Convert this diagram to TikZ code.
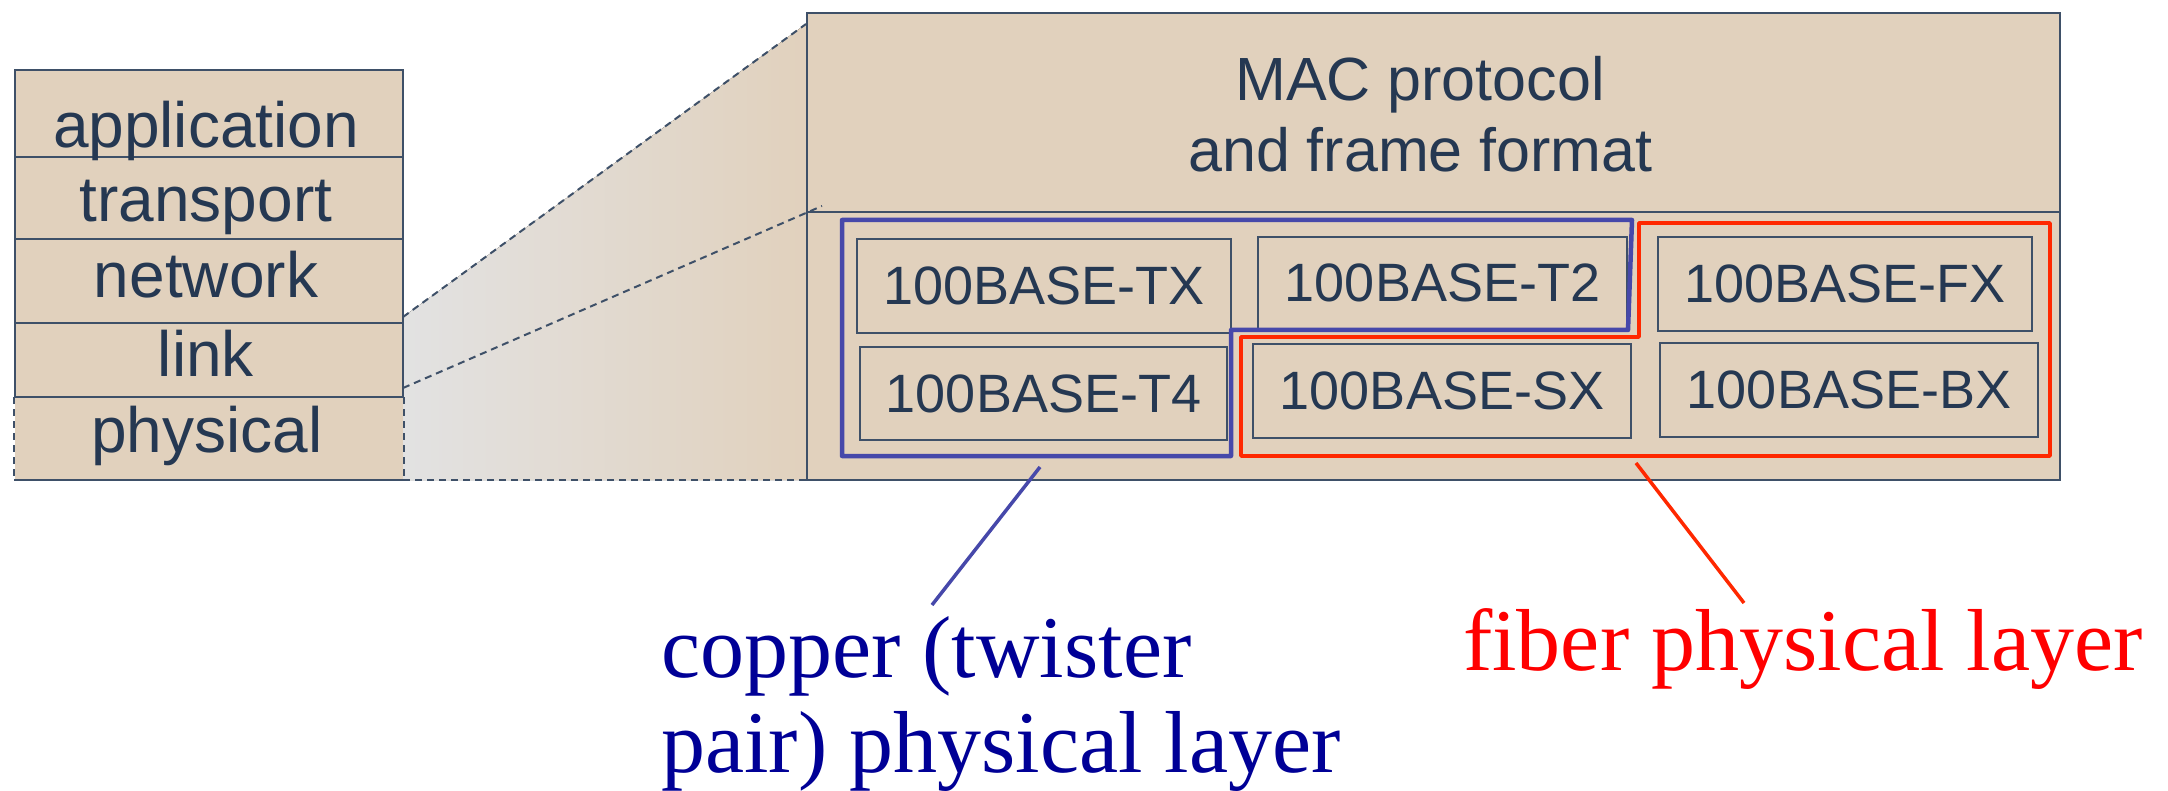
\documentclass[tikz,border=0pt]{standalone}
\usepackage{fontspec}
\setmainfont{Liberation Serif}
\newfontfamily\arialf{Liberation Sans}
\definecolor{beige}{RGB}{225,209,189}
\definecolor{ink}{RGB}{37,56,82}
\definecolor{edge}{RGB}{62,80,104}
\definecolor{cubox}{RGB}{70,72,170}
\definecolor{fibox}{RGB}{255,40,0}
\definecolor{cutext}{RGB}{0,0,150}
\definecolor{fitext}{RGB}{255,0,0}
\definecolor{fade}{RGB}{226,226,226}
\begin{document}
\begin{tikzpicture}[x=1pt,y=-1pt,
  layerbox/.style={rectangle, draw=edge, line width=2pt, fill=beige, minimum width=388pt, inner sep=0pt},
  layertext/.style={anchor=base, inner sep=0pt, text=ink, font=\arialf\fontsize{64}{64}\selectfont},
  bigbox/.style={rectangle, draw=edge, line width=2pt, fill=beige, minimum width=1253pt, inner sep=0pt},
  mactextstyle/.style={anchor=base, inner sep=0pt, text=ink, font=\arialf\fontsize{61}{61}\selectfont},
  stdbox/.style={rectangle, draw=edge, line width=1.6pt, fill=beige, inner sep=0pt, text=ink, font=\arialf\fontsize{54}{54}\selectfont},
  dashedge/.style={draw=edge, line width=2pt, dash pattern=on 7pt off 5pt},
  solidedge/.style={draw=edge, line width=2pt},
  cuframe/.style={draw=cubox, line width=4.5pt, line join=round},
  fiframe/.style={draw=fibox, line width=3.5pt, line join=round},
  labeltext/.style={anchor=base west, inner sep=0pt, font=\fontsize{88}{88}\selectfont}
]
\useasboundingbox (0,0) rectangle (2168,791);

% zoom trapezoid
\coordinate (zA) at (403,317);
\coordinate (zB) at (806,24);
\coordinate (zC) at (806,480);
\coordinate (zD) at (403,480);
\coordinate (zE) at (403,388);
\coordinate (zF) at (822,206);
\fill[left color=fade, right color=beige] (zA) -- (zB) -- (zC) -- (zD) -- cycle;

% protocol stack
\node[layerbox, minimum height=87pt] (app) at (209,113.5) {};
\node[layerbox, minimum height=82pt] (trn) at (209,198) {};
\node[layerbox, minimum height=84pt] (net) at (209,281) {};
\node[layerbox, minimum height=75pt] (lnk) at (209,360.5) {};
\node[layerbox, draw=none, minimum height=81pt] (phy) at (209,438.5) {};
\draw[solidedge] (phy.north west) -- (phy.north east) (phy.south west) -- (phy.south east);
\draw[dashedge] (phy.north west) -- (phy.south west) (phy.north east) -- (phy.south east);

\node[layertext] (tapp) at (206,148) {application};
\node[layertext] (ttrn) at (206,222) {transport};
\node[layertext] (tnet) at (206,298) {network};
\node[layertext] (tlnk) at (206,377) {link};
\node[layertext] (tphy) at (207,452) {physical};

% link layer detail
\node[bigbox, minimum height=199pt] (mac) at (1433.5,112.5) {};
\node[bigbox, minimum height=268pt] (phl) at (1433.5,346) {};
\node[mactextstyle] (macA) at (1420,101) {MAC protocol};
\node[mactextstyle] (macB) at (1420.5,172) {and frame format};

% dashed zoom lines
\draw[dashedge] (zA) -- (zB);
\draw[dashedge] (zE) -- (zF);
\draw[dashedge] (zD) -- (zC);

% standards
\node[stdbox, minimum width=374pt, minimum height=94pt] (tx) at (1044,286) {100BASE-TX};
\node[stdbox, minimum width=367pt, minimum height=93pt] (t4) at (1043.5,393.5) {100BASE-T4};
\node[stdbox, minimum width=369pt, minimum height=92pt] (t2) at (1442.5,283) {100BASE-T2};
\node[stdbox, minimum width=378pt, minimum height=94pt] (sx) at (1442,391) {100BASE-SX};
\node[stdbox, minimum width=374pt, minimum height=94pt] (fx) at (1845,284) {100BASE-FX};
\node[stdbox, minimum width=378pt, minimum height=94pt] (bx) at (1849,390) {100BASE-BX};

% group frames
\draw[cuframe] (842,220) -- (1632,220) -- (1628,330) -- (1231,330) -- (1231,456) -- (842,456) -- cycle;
\draw[fiframe] (1639,223) -- (2050,223) -- (2050,456) -- (1241,456) -- (1241,337) -- (1639,337) -- cycle;

% labels
\node[labeltext, text=cutext] (cuA) at (661,677) {copper (twister};
\node[labeltext, text=cutext] (cuB) at (661,772) {pair) physical layer};
\node[labeltext, text=fitext] (fib) at (1463,670) {fiber physical layer};

\coordinate (cuTip) at (1040,467);
\coordinate (cuEnd) at (932,605);
\coordinate (fiTip) at (1636,463);
\coordinate (fiEnd) at (1744,603);
\draw[draw=cubox, line width=3.5pt] (cuTip) -- (cuEnd);
\draw[draw=fibox, line width=3.5pt] (fiTip) -- (fiEnd);
\end{tikzpicture}
\end{document}
